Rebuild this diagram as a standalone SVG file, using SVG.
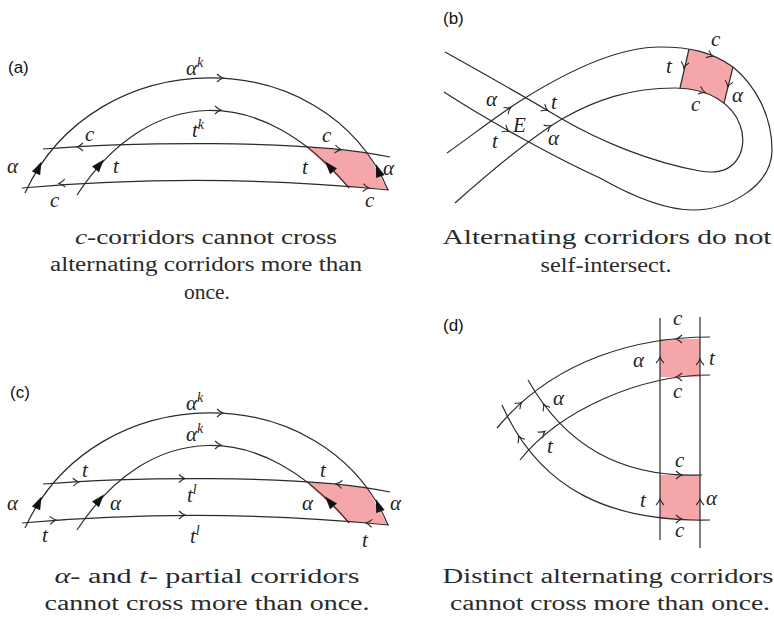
<svg xmlns="http://www.w3.org/2000/svg" width="774" height="619" viewBox="0 0 774 619">
<style>
.ln{fill:none;stroke:#2b2b2b;stroke-width:1.2}
.pk{fill:#f4a6a8;stroke:none}
.m{font-family:"Liberation Serif","Times New Roman",serif;font-style:italic;font-size:21px;fill:#222}
.sup{font-size:14px}
.cap{font-family:"Liberation Serif","Times New Roman",serif;font-size:20px;fill:#2a2a2a}
.it{font-style:italic}
.lab{font-family:"Liberation Sans",Arial,sans-serif;font-size:17px;fill:#111}
</style>
<defs>
<path id="ch" d="M-5,-4 Q-2,-1 1,0 Q-2,1 -5,4" fill="none" stroke="#2b2b2b" stroke-width="1.1"/>
<path id="tr" d="M6,0 L-7,-4.5 L-7,4.5 Z" fill="#111"/>
</defs>

<!-- Panel (a) -->
<g id="panel-a">
<text class="lab" x="8" y="73">(a)</text>
<polygon class="pk" points="306,146.5 367,153 387,189 347.5,186.5"/>
<g id="a-lines">
<path class="ln" d="M25,193 C95,40 325,40 388,190"/>
<path class="ln" d="M77,195 C150,84 262,83 349,188"/>
<path class="ln" d="M43,149 C120,143 300,138 390,157"/>
<path class="ln" d="M22,188 Q205,172 389,190"/>
</g>
<g id="a-arrows">
<use href="#ch" transform="translate(222,78)"/>
<use href="#ch" transform="translate(220,110)"/>
<use href="#ch" transform="translate(78,147) rotate(180)"/>
<use href="#ch" transform="translate(340,149.5) rotate(6)"/>
<use href="#ch" transform="translate(60,183.5) rotate(176)"/>
<use href="#ch" transform="translate(368,188) rotate(5)"/>
<use href="#tr" transform="translate(39,167) rotate(-65)"/>
<use href="#tr" transform="translate(100,164) rotate(-50)"/>
<use href="#tr" transform="translate(329,166) rotate(-130)"/>
<use href="#tr" transform="translate(378,170) rotate(-110)"/>
</g>
<g id="a-labels">
<text class="m" x="186" y="75">α<tspan class="sup" dy="-8">k</tspan></text>
<text class="m" x="192" y="137">t<tspan class="sup" dy="-8">k</tspan></text>
<text class="m" x="85" y="141">c</text>
<text class="m" x="322" y="142">c</text>
<text class="m" x="7" y="173">α</text>
<text class="m" x="113" y="173">t</text>
<text class="m" x="302" y="174">t</text>
<text class="m" x="383" y="175">α</text>
<text class="m" x="50" y="207">c</text>
<text class="m" x="365" y="207">c</text>
</g>
<text class="cap" x="206" y="244" text-anchor="middle" textLength="262" lengthAdjust="spacingAndGlyphs"><tspan class="it">c</tspan>-corridors cannot cross</text>
<text class="cap" x="206" y="271" text-anchor="middle" textLength="312" lengthAdjust="spacingAndGlyphs">alternating corridors more than</text>
<text class="cap" x="207" y="299" text-anchor="middle" textLength="46" lengthAdjust="spacingAndGlyphs">once.</text>
</g>

<!-- Panel (b) -->
<g id="panel-b">
<text class="lab" x="443" y="24">(b)</text>
<path class="pk" d="M689,49 Q712,53 733,67 L724,103 Q705,89 680,88 Z"/>
<g id="b-lines">
<path class="ln" d="M445,52 C490,77 530,100 562,119 C600,141 650,162 700,171 C740,178 748,145 740,125 C733,105 710,88 675,88 C630,88 595,100 562,119 C530,138 490,172 455,203"/>
<path class="ln" d="M444,92 C490,122 560,160 600,178 C630,195 665,210 693,210 C730,210 772,185 772,150 C772,115 755,85 733,67 C712,52 690,47 660,47 C620,47 570,70 525,98 C500,113 470,137 447,153"/>
<path class="ln" d="M689,49 L680,88"/>
<path class="ln" d="M733,67 L724,103"/>
</g>
<g id="b-arrows">
<use href="#ch" transform="translate(510,108) rotate(-34)"/>
<use href="#ch" transform="translate(547,110) rotate(30)"/>
<use href="#ch" transform="translate(508,131) rotate(32)"/>
<use href="#ch" transform="translate(550,126) rotate(-31)"/>
<use href="#ch" transform="translate(684,67) rotate(103)"/>
<use href="#ch" transform="translate(712,56) rotate(23)"/>
<use href="#ch" transform="translate(704,92) rotate(20)"/>
<use href="#ch" transform="translate(728,86) rotate(104)"/>
</g>
<g id="b-labels">
<text class="m" x="486" y="106">α</text>
<text class="m" x="551" y="109">t</text>
<text class="m" x="513" y="132">E</text>
<text class="m" x="492" y="148">t</text>
<text class="m" x="548" y="145">α</text>
<text class="m" x="666" y="73">t</text>
<text class="m" x="711" y="46">c</text>
<text class="m" x="691" y="111">c</text>
<text class="m" x="732" y="102">α</text>
</g>
<text class="cap" x="607" y="244" text-anchor="middle" textLength="329" lengthAdjust="spacingAndGlyphs">Alternating corridors do not</text>
<text class="cap" x="606" y="272" text-anchor="middle" textLength="131" lengthAdjust="spacingAndGlyphs">self-intersect.</text>
</g>

<!-- Panel (c) -->
<g id="panel-c">
<text class="lab" x="10" y="398">(c)</text>
<g transform="translate(0,335)">
<polygon class="pk" points="306,146.5 367,153 387,189 347.5,186.5"/>
<g id="c-lines">
<path class="ln" d="M25,193 C95,40 325,40 388,190"/>
<path class="ln" d="M77,195 C150,84 262,83 349,188"/>
<path class="ln" d="M43,149 C120,143 300,138 390,157"/>
<path class="ln" d="M22,188 Q205,172 389,190"/>
</g>
<g id="c-arrows">
<use href="#ch" transform="translate(222,78)"/>
<use href="#ch" transform="translate(220,110)"/>
<use href="#ch" transform="translate(78,147) rotate(-3)"/>
<use href="#ch" transform="translate(184,143.5)"/>
<use href="#ch" transform="translate(337,149) rotate(186)"/>
<use href="#ch" transform="translate(55,185) rotate(-4)"/>
<use href="#ch" transform="translate(184,180)"/>
<use href="#ch" transform="translate(367,188) rotate(185)"/>
<use href="#tr" transform="translate(39,167) rotate(-65)"/>
<use href="#tr" transform="translate(100,164) rotate(-50)"/>
<use href="#tr" transform="translate(329,166) rotate(-130)"/>
<use href="#tr" transform="translate(378,170) rotate(-110)"/>
</g>
<g id="c-labels">
<text class="m" x="186" y="75">α<tspan class="sup" dy="-8">k</tspan></text>
<text class="m" x="186" y="106">α<tspan class="sup" dy="-8">k</tspan></text>
<text class="m" x="82" y="142">t</text>
<text class="m" x="187" y="167">t<tspan class="sup" dy="-8">l</tspan></text>
<text class="m" x="320" y="142">t</text>
<text class="m" x="7" y="175">α</text>
<text class="m" x="110" y="175">α</text>
<text class="m" x="302" y="175">α</text>
<text class="m" x="390" y="175">α</text>
<text class="m" x="42" y="207">t</text>
<text class="m" x="190" y="208">t<tspan class="sup" dy="-8">l</tspan></text>
<text class="m" x="362" y="212">t</text>
</g>
</g>
<text class="cap" x="207" y="583" text-anchor="middle" textLength="305" lengthAdjust="spacingAndGlyphs"><tspan class="it">α</tspan>- and <tspan class="it">t</tspan>- partial corridors</text>
<text class="cap" x="207" y="610" text-anchor="middle" textLength="325" lengthAdjust="spacingAndGlyphs">cannot cross more than once.</text>
</g>

<!-- Panel (d) -->
<g id="panel-d">
<text class="lab" x="443" y="331">(d)</text>
<rect class="pk" x="660" y="339" width="40" height="38"/>
<rect class="pk" x="660" y="475" width="40" height="44"/>
<g id="d-lines">
<line class="ln" x1="660" y1="318" x2="660" y2="540"/>
<line class="ln" x1="700" y1="317" x2="700" y2="548"/>
<path class="ln" d="M710,337 C640,337 555,358 497,428"/>
<path class="ln" d="M710,375 C640,375 560,410 520,460"/>
<path class="ln" d="M702,475 C620,478 565,445 528,380"/>
<path class="ln" d="M710,520 C610,522 540,490 502,405"/>
</g>
<g id="d-arrows">
<use href="#ch" transform="translate(677,339) rotate(180)"/>
<use href="#ch" transform="translate(677,377) rotate(180)"/>
<use href="#ch" transform="translate(660,358) rotate(-90)"/>
<use href="#ch" transform="translate(700,360) rotate(-90)"/>
<use href="#ch" transform="translate(681,475)"/>
<use href="#ch" transform="translate(681,519)"/>
<use href="#ch" transform="translate(660,500) rotate(-90)"/>
<use href="#ch" transform="translate(700,500) rotate(-90)"/>
<use href="#ch" transform="translate(521,403) rotate(-41)"/>
<use href="#ch" transform="translate(544,405) rotate(-120)"/>
<use href="#ch" transform="translate(519,437) rotate(-120)"/>
<use href="#ch" transform="translate(544,432) rotate(-38)"/>
</g>
<g id="d-labels">
<text class="m" x="673" y="325">c</text>
<text class="m" x="633" y="367">α</text>
<text class="m" x="709" y="365">t</text>
<text class="m" x="673" y="398">c</text>
<text class="m" x="675" y="467">c</text>
<text class="m" x="640" y="507">t</text>
<text class="m" x="706" y="505">α</text>
<text class="m" x="675" y="537">c</text>
<text class="m" x="553" y="405">α</text>
<text class="m" x="547" y="453">t</text>
</g>
<text class="cap" x="608" y="583" text-anchor="middle" textLength="331" lengthAdjust="spacingAndGlyphs">Distinct alternating corridors</text>
<text class="cap" x="610" y="610" text-anchor="middle" textLength="320" lengthAdjust="spacingAndGlyphs">cannot cross more than once.</text>
</g>
</svg>
